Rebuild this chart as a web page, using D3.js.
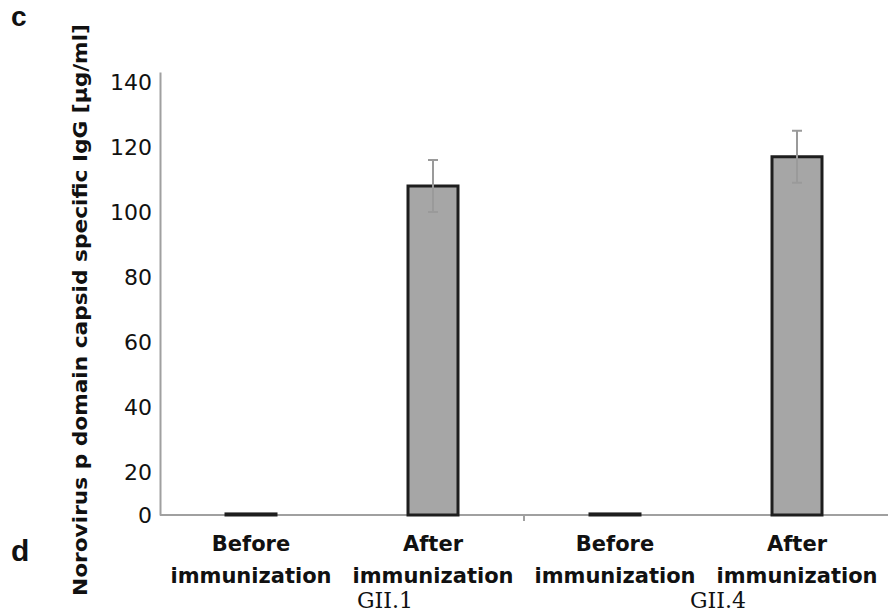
<!DOCTYPE html>
<html>
<head>
<meta charset="utf-8">
<script src="https://cdn.jsdelivr.net/npm/d3@7"></script>
<style>
  body { margin: 0; background: #fff; }
  svg { display: block; }
</style>
</head>
<body>
<svg id="chart" width="890" height="612"></svg>
<script>
const categories = ["Before immunization GII.1", "After immunization GII.1", "Before immunization GII.4", "After immunization GII.4"];
const catLine1 = ["Before", "After", "Before", "After"];
const catLine2 = ["immunization", "immunization", "immunization", "immunization"];
const groups = ["GII.1", "GII.4"];
const values = [0.5, 108, 0.5, 117];
const errors = [0, 8, 0, 8];
const yTicks = [0, 20, 40, 60, 80, 100, 120, 140];
const yTitle = "Norovirus p domain capsid specific IgG [µg/ml]";

(function () {
const svg = d3.select("#chart");
const mLeft = 160, mRight = 888, mTop = 72, mBottom = 515;

const x = d3.scaleBand().domain(categories).range([mLeft, mRight]).paddingInner(0).paddingOuter(0);
// the original axis has a shorter 0–20 step than the other steps
const y = d3.scaleLinear().domain([0, 20, 140, 143]).range([mBottom, 472, 82, mTop]);
const barW = 50;

// y axis
const yAxis = d3.axisLeft(y).tickValues(yTicks).tickSize(0).tickPadding(8);
const gy = svg.append("g").attr("transform", `translate(${mLeft},0)`).call(yAxis);
gy.select(".domain").attr("stroke", "#a0a0a0").attr("stroke-width", 2);
gy.selectAll("text").attr("font-family", "DejaVu Sans, Verdana, sans-serif").attr("font-size", 22).attr("fill", "#111");

// x axis
const gx = svg.append("g").attr("transform", `translate(0,${mBottom})`);
gx.append("line").attr("x1", mLeft).attr("x2", mRight).attr("y1", 0).attr("y2", 0)
  .attr("stroke", "#a0a0a0").attr("stroke-width", 2);
const sepX = x(categories[2]);
gx.append("line").attr("x1", sepX).attr("x2", sepX).attr("y1", 0).attr("y2", 6)
  .attr("stroke", "#a0a0a0").attr("stroke-width", 2);

// bars
svg.append("g").selectAll("rect").data(values).join("rect")
  .attr("x", (d, i) => x(categories[i]) + x.bandwidth() / 2 - barW / 2)
  .attr("width", barW)
  .attr("y", d => y(d))
  .attr("height", d => Math.max(0, y(0) - y(d)))
  .attr("fill", "#a6a6a6")
  .attr("stroke", "#1e1e1e")
  .attr("stroke-width", 3);

// error bars
const eg = svg.append("g");
values.forEach((v, i) => {
  if (!errors[i]) return;
  const cx = x(categories[i]) + x.bandwidth() / 2;
  eg.append("line").attr("x1", cx).attr("x2", cx).attr("y1", y(v + errors[i])).attr("y2", y(v - errors[i]))
    .attr("stroke", "#9a9a9a").attr("stroke-width", 2);
  [v + errors[i], v - errors[i]].forEach(e => {
    eg.append("line").attr("x1", cx - 5).attr("x2", cx + 5).attr("y1", y(e)).attr("y2", y(e))
      .attr("stroke", "#9a9a9a").attr("stroke-width", 2);
  });
});

// category labels
const lg = svg.append("g").attr("font-family", "DejaVu Sans, Verdana, sans-serif")
  .attr("font-weight", "bold").attr("font-size", 21).attr("fill", "#111").attr("text-anchor", "middle");
categories.forEach((c, i) => {
  const cx = x(c) + x.bandwidth() / 2;
  lg.append("text").attr("x", cx).attr("y", 551).text(catLine1[i]);
  lg.append("text").attr("x", cx).attr("y", 583).text(catLine2[i]);
});

// group labels
const groupShift = [43, 12];
const gg = svg.append("g").attr("font-family", "DejaVu Serif, serif").attr("font-size", 22)
  .attr("fill", "#111").attr("text-anchor", "middle");
groups.forEach((g, k) => {
  const cx = (x(categories[2 * k]) + x(categories[2 * k + 1]) + x.bandwidth()) / 2 + groupShift[k];
  gg.append("text").attr("x", cx).attr("y", 608).text(g);
});

// y title
svg.append("text")
  .attr("transform", `translate(87,310) rotate(-90)`)
  .attr("text-anchor", "middle")
  .attr("font-family", "DejaVu Sans, Verdana, sans-serif")
  .attr("font-weight", "bold").attr("font-size", 20).attr("fill", "#111")
  .attr("textLength", 572).attr("lengthAdjust", "spacingAndGlyphs")
  .text(yTitle);

// panel letters
svg.append("text").attr("x", 11).attr("y", 26).attr("font-family", "Liberation Sans, Arial, sans-serif")
  .attr("font-weight", "bold").attr("font-size", 28).attr("fill", "#111").text("c");
svg.append("text").attr("x", 11).attr("y", 561).attr("font-family", "Liberation Sans, Arial, sans-serif")
  .attr("font-weight", "bold").attr("font-size", 30).attr("fill", "#111").text("d");
})();
</script>
</body>
</html>
